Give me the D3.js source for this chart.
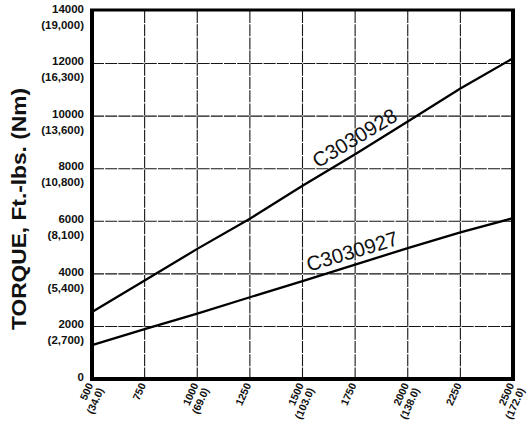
<!DOCTYPE html>
<html>
<head>
<meta charset="utf-8">
<script src="https://cdn.jsdelivr.net/npm/d3@7"></script>
<style>
  html, body { margin: 0; padding: 0; background: #fff; }
  svg { display: block; }
  text { font-family: "Liberation Sans", Arial, Helvetica, sans-serif; fill: #111; }
</style>
</head>
<body>
<svg id="chart" width="529" height="422"></svg>
<script>
// ---- data ----
const rpm = [500, 750, 1000, 1250, 1500, 1750, 2000, 2250, 2500];
const torqueC3030928 = [2550, 3750, 4950, 6100, 7350, 8550, 9800, 11050, 12200];
const torqueC3030927 = [1290, 1900, 2490, 3110, 3720, 4350, 4980, 5580, 6120];
const seriesNames = ["C3030928", "C3030927"];
const xTickValues = [500, 750, 1000, 1250, 1500, 1750, 2000, 2250, 2500];
const xTickSub = ["(34.0)", "", "(69.0)", "", "(103.0)", "", "(138.0)", "", "(172.0)"];
const yTickValues = [0, 2000, 4000, 6000, 8000, 10000, 12000, 14000];
const yTickSub = ["", "(2,700)", "(5,400)", "(8,100)", "(10,800)", "(13,600)", "(16,300)", "(19,000)"];
const yTitle = "TORQUE, Ft.-lbs. (Nm)";
// label anchor positions along each line (rpm)
const labelRpm = [1590, 1540];

// ---- layout ----
const svg = d3.select("#chart");
const pLeft = 92, pRight = 513, pTop = 11, pBottom = 379;
const x = d3.scaleLinear().domain([500, 2500]).range([pLeft, pRight]);
const y = d3.scaleLinear().domain([0, 14000]).range([pBottom, pTop]);

// grid lines
const grid = svg.append("g");
grid.selectAll("line.v").data(xTickValues.slice(1, -1)).join("line")
  .attr("x1", d => x(d)).attr("x2", d => x(d))
  .attr("y1", pTop).attr("y2", pBottom)
  .attr("stroke", "#151515").attr("stroke-width", 1.1)
  .attr("stroke-dasharray", "12,1.2");
grid.selectAll("line.h").data(yTickValues.slice(1, -1)).join("line")
  .attr("x1", pLeft).attr("x2", pRight)
  .attr("y1", d => y(d)).attr("y2", d => y(d))
  .attr("stroke", "#151515").attr("stroke-width", 1.1)
  .attr("stroke-dasharray", "12,1.2");

// data lines
const seriesData = [torqueC3030928, torqueC3030927];
const line = d3.line().x((d, i) => x(rpm[i])).y(d => y(d));
svg.selectAll("path.series").data(seriesData).join("path")
  .attr("class", "series")
  .attr("d", d => line(d))
  .attr("fill", "none").attr("stroke", "#000").attr("stroke-width", 2.3);

// series labels along lines
seriesData.forEach((vals, si) => {
  const r = labelRpm[si];
  const v = d3.scaleLinear().domain(rpm).range(vals)(r);
  const a = Math.atan2(y(vals[vals.length - 1]) - y(vals[0]), x(rpm[rpm.length - 1]) - x(rpm[0])) * 180 / Math.PI;
  svg.append("text")
    .attr("transform", `translate(${x(r)},${y(v)}) rotate(${a})`)
    .attr("dy", -7)
    .attr("font-size", 20.5)
    .text(seriesNames[si]);
});

// frame
const frame = svg.append("g").attr("stroke", "#000").attr("fill", "none");
frame.append("line").attr("x1", pLeft).attr("x2", pLeft).attr("y1", pTop - 1.5).attr("y2", pBottom + 2).attr("stroke-width", 4);
frame.append("line").attr("x1", pRight).attr("x2", pRight).attr("y1", pTop - 1.5).attr("y2", pBottom + 2).attr("stroke-width", 4);
frame.append("line").attr("x1", pLeft - 2).attr("x2", pRight + 2).attr("y1", pBottom).attr("y2", pBottom).attr("stroke-width", 4);
frame.append("line").attr("x1", pLeft - 2).attr("x2", pRight + 2).attr("y1", pTop - 1).attr("y2", pTop - 1).attr("stroke-width", 3);

// y axis labels
const yAxis = d3.axisLeft(y).tickValues(yTickValues).tickSize(0).tickPadding(8).tickFormat(d => d);
const gy = svg.append("g").attr("transform", `translate(${pLeft},0)`).call(yAxis);
gy.select(".domain").remove();
gy.selectAll(".tick text")
  .attr("font-size", 11.5).attr("font-weight", "bold").attr("font-family", null)
  .attr("dy", "0.1em")
  .each(function (d, i) {
    if (yTickSub[i]) {
      d3.select(this.parentNode).append("text")
        .attr("x", -8).attr("dy", "1.5em")
        .attr("text-anchor", "end")
        .attr("font-size", 11.5).attr("font-weight", "bold")
        .attr("fill", "#111")
        .text(yTickSub[i]);
    }
  });

// x axis labels (rotated)
const xAxis = d3.axisBottom(x).tickValues(xTickValues).tickSize(0).tickFormat(d => d);
const gx = svg.append("g").attr("transform", `translate(0,${pBottom})`).call(xAxis);
gx.select(".domain").remove();
gx.selectAll(".tick text").remove();
gx.selectAll(".tick").each(function (d, i) {
  const t = d3.select(this).append("text")
    .attr("transform", "translate(1,6) rotate(-66)")
    .attr("text-anchor", "end")
    .attr("font-size", 10.5).attr("font-weight", "bold")
    .attr("fill", "#111");
  t.append("tspan").attr("x", 0).attr("dy", "0em").text(d);
  if (xTickSub[i]) t.append("tspan").attr("x", 0).attr("dy", "1.1em").text(xTickSub[i]);
});

// y title
svg.append("text")
  .attr("transform", `translate(26,209) rotate(-90)`)
  .attr("text-anchor", "middle")
  .attr("font-size", 21).attr("font-weight", "bold")
  .attr("textLength", 242).attr("lengthAdjust", "spacingAndGlyphs")
  .text(yTitle);
</script>
</body>
</html>
